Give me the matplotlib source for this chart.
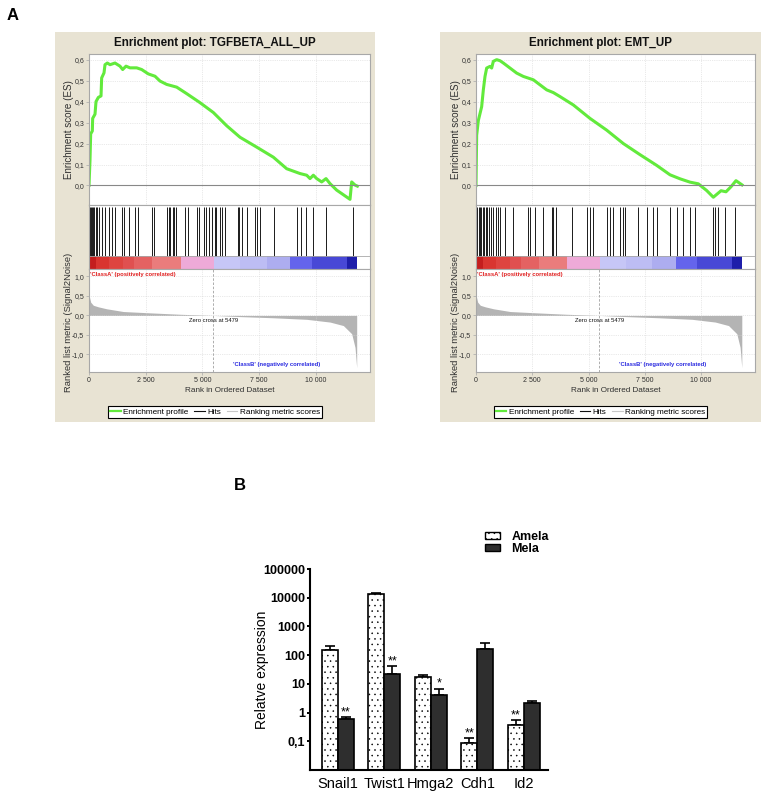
import matplotlib
matplotlib.use("Agg")
import matplotlib.pyplot as plt
from matplotlib import font_manager
from matplotlib.patches import Patch
from matplotlib.lines import Line2D
import numpy as np

W, H = 764, 794

# ---------------- GSEA data ----------------
X_MAX = 12400
ZERO_CROSS = 5479

es1_rank = [0, 44, 74, 147, 162, 265, 309, 412, 530, 559, 662, 706, 809, 927, 1147,
            1368, 1486, 1633, 1809, 2104, 2324, 2618, 2913, 3133, 3428, 3869, 4310,
            4898, 5487, 6075, 6664, 7399, 8135, 8723, 9311, 9606, 9753, 9900, 10047,
            10268, 10459, 10635, 10929, 11518, 11592, 11739, 11842]
es1_score = [0.0, 0.12, 0.246, 0.26, 0.32, 0.34, 0.40, 0.42, 0.427, 0.513, 0.537,
             0.576, 0.584, 0.576, 0.584, 0.569, 0.553, 0.569, 0.561, 0.561, 0.553,
             0.532, 0.521, 0.498, 0.482, 0.469, 0.438, 0.395, 0.348, 0.285, 0.23,
             0.183, 0.135, 0.08, 0.057, 0.049, 0.033, 0.049, 0.033, 0.017, 0.033,
             0.009, -0.022, -0.066, 0.017, 0.002, -0.003]
hits1 = [45, 90, 150, 190, 235, 295, 370, 460, 565, 715, 862, 1010, 1160, 1457, 1560,
         1755, 2010, 2155, 2795, 2870, 3435, 3510, 3585, 3690, 3760, 3835, 4240, 4355,
         4770, 4875, 5055, 5145, 5280, 5425, 5545, 5620, 5800, 5890, 6020, 6560, 6630,
         6765, 6990, 7330, 7405, 7555, 8150, 9190, 9340, 9560, 9890, 10455, 11670]

es2_rank = [0, 30, 104, 252, 326, 400, 474, 622, 696, 770, 918, 1067, 1215, 1511, 1807,
            2104, 2326, 2548, 2844, 3141, 3437, 3733, 4326, 5066, 5807, 6548, 7289,
            8029, 8622, 9066, 9510, 9881, 10252, 10548, 10890, 11111, 11333, 11555, 11822]
es2_score = [0.0, 0.24, 0.31, 0.376, 0.456, 0.52, 0.56, 0.568, 0.56, 0.592, 0.60, 0.595,
             0.584, 0.56, 0.536, 0.52, 0.512, 0.504, 0.48, 0.456, 0.443, 0.424, 0.384,
             0.32, 0.264, 0.20, 0.147, 0.096, 0.051, 0.032, 0.016, 0.008, -0.024,
             -0.056, -0.025, -0.03, -0.006, 0.023, 0.003]
hits2 = [10, 60, 120, 180, 235, 295, 355, 430, 505, 590, 665, 770, 890, 990, 1065, 1290,
         1630, 2325, 2400, 2620, 2960, 3360, 3435, 3555, 4250, 4950, 5065, 5215, 5835,
         5955, 6075, 6400, 6550, 6620, 7215, 7585, 7880, 8030, 8620, 8920, 9215, 9510,
         9735, 10545, 10620, 10770, 11065, 11510]

metric_rank = [0, 74, 191, 412, 780, 1515, 2545, 4016, 5479, 6664, 8135, 9606, 10635,
               11224, 11592, 11739, 11813]
metric_value = [0.52, 0.34, 0.26, 0.22, 0.17, 0.10, 0.07, 0.03, 0.0, -0.03, -0.06,
                -0.10, -0.17, -0.26, -0.47, -0.82, -1.34]

band_edges = [0, 300, 900, 1500, 2000, 2800, 4060, 5520, 6660, 7840, 8880, 9820, 11380, 11842]
band_colors = ['#c41e1e', '#d93530', '#de4440', '#e05050', '#e46262', '#ea7c7c',
               '#eeaad8', '#c6c6f6', '#bdbdf4', '#adadf0', '#6464ec', '#4848d6', '#1e1eaa']

rank_ticks = [0, 2500, 5000, 7500, 10000]
rank_labels = ["0", "2 500", "5 000", "7 500", "10 000"]
es_ticks = [0.0, 0.1, 0.2, 0.3, 0.4, 0.5, 0.6]
es_labels = ["0,0", "0,1", "0,2", "0,3", "0,4", "0,5", "0,6"]
metric_ticks = [1.0, 0.5, 0.0, -0.5, -1.0]
metric_labels = ["1,0", "0,5", "0,0", "-0,5", "-1,0"]

# ---------------- qPCR data ----------------
genes = ["Snail1", "Twist1", "Hmga2", "Cdh1", "Id2"]
amela = [150, 14000, 18, 0.085, 0.37]
amela_top = [204, 14800, 21, 0.126, 0.55]
mela = [0.6, 22, 4, 170, 2.2]
mela_top = [0.69, 41, 6.7, 265, 2.5]
stars_amela = ["", "", "", "**", "**"]
stars_mela = ["**", "**", "*", "", ""]
expr_ticks = [0.1, 1, 10, 100, 1000, 10000, 100000]
expr_labels = ["0,1", "1", "10", "100", "1000", "10000", "100000"]

# ---------------- style ----------------
names = {f.name for f in font_manager.fontManager.ttflist}
NARROW = "Liberation Sans Narrow" if "Liberation Sans Narrow" in names else "Liberation Sans"
SANS = "Liberation Sans"
k = 1.0 if NARROW == "Liberation Sans Narrow" else 0.84

BEIGE = "#e8e3d3"
GREEN = "#62ea3c"
FRAME = "#a8a8a8"
GRID = "#d4d4d4"
TXT = "#303030"
plt.rcParams["hatch.linewidth"] = 0.35
plt.rcParams["hatch.color"] = "#555555"


def rect(x0, y0, x1, y1):
    return [x0 / W, 1 - y1 / H, (x1 - x0) / W, (y1 - y0) / H]


fig = plt.figure(figsize=(W / 100, H / 100), dpi=100)


def style_frame(ax):
    for s in ax.spines.values():
        s.set_color(FRAME)
        s.set_linewidth(0.8)
    ax.tick_params(colors=FRAME, labelcolor=TXT, length=2, width=0.5, pad=1.5)


def gsea_panel(bx0, bx1, px0, px1, title, es_rank, es_score, hits):
    bg = fig.add_axes(rect(bx0, 32, bx1, 422), zorder=-5)
    bg.set_facecolor(BEIGE)
    bg.set_xticks([])
    bg.set_yticks([])
    for s in bg.spines.values():
        s.set_visible(False)
    fig.text((bx0 + bx1) / 2 / W, 1 - 43 / H, title, ha="center", va="center",
             fontsize=10 * k, fontweight="bold", family=NARROW, color="#111111")

    # enrichment score
    ax = fig.add_axes(rect(px0, 54, px1, 205))
    ax.set_facecolor("white")
    ax.plot(es_rank, es_score, color=GREEN, lw=2.2, solid_joinstyle="round")
    ax.axhline(0, color="#888888", lw=0.8)
    ax.set_xlim(0, X_MAX)
    ax.set_ylim(-0.093, 0.627)
    ax.set_xticks(rank_ticks)
    ax.set_xticklabels([])
    ax.set_yticks(es_ticks)
    ax.set_yticklabels(es_labels, fontsize=6 * k, family=NARROW)
    ax.grid(True, color=GRID, lw=0.5, ls=":")
    ax.set_ylabel("Enrichment score (ES)", fontsize=8.5 * k, family=NARROW, color=TXT)
    ax.yaxis.set_label_coords(-0.052, 0.5)
    style_frame(ax)
    ax.tick_params(axis="x", length=0)

    # hits + colour band
    axh = fig.add_axes(rect(px0, 205, px1, 269))
    axh.set_xlim(0, X_MAX)
    axh.set_ylim(0, 1)
    for a, b, c in zip(band_edges[:-1], band_edges[1:], band_colors):
        axh.axvspan(a, b, ymin=0, ymax=0.2, color=c, lw=0)
    axh.vlines(hits, 0.2, 0.97, color="#1a1a1a", lw=0.7)
    axh.axhline(0.2, color=FRAME, lw=0.6)
    axh.set_xticks([])
    axh.set_yticks([])
    style_frame(axh)

    # ranked list metric
    axm = fig.add_axes(rect(px0, 269, px1, 372))
    axm.fill_between(metric_rank, metric_value, 0, color="#b4b4b4", lw=0)
    axm.axvline(ZERO_CROSS, color="#a0a0a0", lw=0.6, ls=(0, (3, 2)))
    axm.set_xlim(0, X_MAX)
    axm.set_ylim(-1.45, 1.19)
    axm.set_xticks(rank_ticks)
    axm.set_xticklabels(rank_labels, fontsize=6 * k, family=NARROW)
    axm.set_yticks(metric_ticks)
    axm.set_yticklabels(metric_labels, fontsize=6 * k, family=NARROW)
    axm.grid(True, color=GRID, lw=0.5, ls=":")
    axm.set_xlabel("Rank in Ordered Dataset", fontsize=7 * k, family=NARROW, color=TXT,
                   labelpad=2)
    axm.set_ylabel("Ranked list metric (Signal2Noise)", fontsize=8 * k, family=NARROW,
                   color=TXT)
    axm.yaxis.set_label_coords(-0.056, 0.48)
    axm.text(60, 1.04, "'ClassA' (positively correlated)", color="#e02020", fontsize=5 * k,
             fontweight="bold", family=NARROW, ha="left", va="center")
    axm.text(ZERO_CROSS, -0.13, "Zero cross at 5479", color="#111111", fontsize=5 * k,
             family=NARROW, ha="center", va="center")
    axm.text(8280, -1.26, "'ClassB' (negatively correlated)", color="#2a2ae0",
             fontsize=5 * k, fontweight="bold", family=NARROW, ha="center", va="center")
    style_frame(axm)

    handles = [Line2D([], [], color=GREEN, lw=1.6), Line2D([], [], color="#111111", lw=0.8),
               Line2D([], [], color="#c8c8c8", lw=0.8)]
    leg = fig.legend(handles, ["Enrichment profile", "Hits", "Ranking metric scores"],
                     loc="center", bbox_to_anchor=((bx0 + bx1) / 2 / W, 1 - 412 / H),
                     ncol=3, prop={"family": NARROW, "size": 7 * k},
                     frameon=True, fancybox=False, edgecolor="black", framealpha=1,
                     borderpad=0.25, handlelength=1.3, handletextpad=0.3,
                     columnspacing=0.7, borderaxespad=0)
    leg.get_frame().set_linewidth(0.8)


gsea_panel(55, 375, 89, 370, "Enrichment plot: TGFBETA_ALL_UP", es1_rank, es1_score, hits1)
gsea_panel(440, 761, 476, 755, "Enrichment plot: EMT_UP", es2_rank, es2_score, hits2)

fig.text(13 / W, 1 - 15 / H, "A", fontsize=12, fontweight="bold", family=SANS,
         ha="center", va="center")
fig.text(240 / W, 1 - 485 / H, "B", fontsize=12, fontweight="bold", family=SANS,
         ha="center", va="center")

# ---------------- panel B ----------------
axb = fig.add_axes(rect(310, 569, 548, 770))
x = np.arange(len(genes))
w = 0.344
amela_a = np.array(amela)
mela_a = np.array(mela)
axb.bar(x - w / 2, amela_a, w, color="white", edgecolor="black", lw=1.2, hatch="...",
        label="Amela", zorder=2)
axb.bar(x + w / 2, mela_a, w, color="#2e2e2e", edgecolor="black", lw=1.2, label="Mela",
        zorder=2)
axb.errorbar(x - w / 2, amela_a, yerr=[np.zeros(len(genes)), np.array(amela_top) - amela_a],
             fmt="none", ecolor="black", elinewidth=1.2, capsize=3.5, capthick=1.2, zorder=1)
axb.errorbar(x + w / 2, mela_a, yerr=[np.zeros(len(genes)), np.array(mela_top) - mela_a],
             fmt="none", ecolor="black", elinewidth=1.2, capsize=3.5, capthick=1.2, zorder=1)
axb.set_yscale("log")
axb.set_ylim(0.01, 100000)
axb.set_xlim(-0.6, 4.52)
axb.set_yticks(expr_ticks)
axb.set_yticklabels(expr_labels, fontsize=9, fontweight="bold", family=SANS)
axb.minorticks_off()
axb.set_xticks(x)
axb.set_xticklabels(genes, fontsize=10.5, family=SANS)
axb.tick_params(axis="x", length=0, pad=5)
axb.tick_params(axis="y", length=2.5, width=1.4, pad=1)
for s in ["top", "right"]:
    axb.spines[s].set_visible(False)
for s in ["left", "bottom"]:
    axb.spines[s].set_linewidth(1.5)
axb.set_ylabel("Relatve expression", fontsize=10, family=SANS)
axb.yaxis.set_label_coords(-0.172, 0.5)

for xi, top, s in zip(x - w / 2, amela_top, stars_amela):
    if s:
        axb.annotate(s, (xi, top), xytext=(0, 1.5), textcoords="offset points",
                     ha="center", va="baseline", fontsize=9, family=SANS)
for xi, top, s in zip(x + w / 2, mela_top, stars_mela):
    if s:
        axb.annotate(s, (xi, top), xytext=(0, 1.5), textcoords="offset points",
                     ha="center", va="baseline", fontsize=9, family=SANS)

blh = [Patch(facecolor="white", edgecolor="black", hatch="...", lw=1.0),
       Patch(facecolor="#2e2e2e", edgecolor="black", lw=1.0)]
fig.legend(blh, ["Amela", "Mela"], loc="upper left",
           bbox_to_anchor=(485 / W, 1 - 531 / H), frameon=False,
           prop={"family": SANS, "size": 9, "weight": "bold"},
           handlelength=1.2, handleheight=0.55, handletextpad=0.9, labelspacing=0.0,
           borderpad=0, borderaxespad=0)

fig.savefig("out.png", dpi=100)
